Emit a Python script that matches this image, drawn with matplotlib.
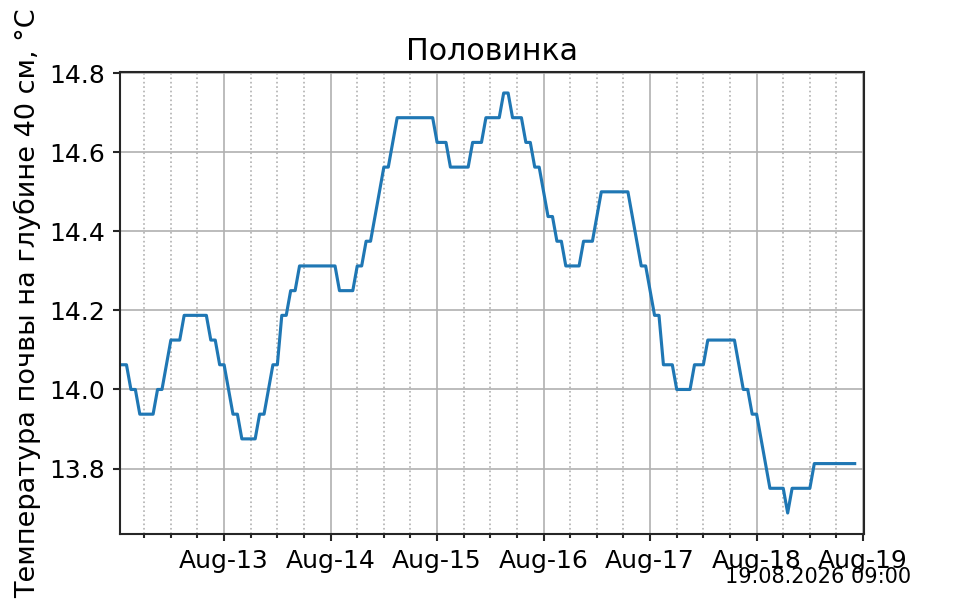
import matplotlib
matplotlib.use("Agg")
import matplotlib.pyplot as plt
import matplotlib.dates as mdates
import numpy as np
import pandas as pd

# Data: hours after 2026-08-12 00:00 and soil temperature, °C
hours = [0.54, 2, 3, 4, 5, 8, 9, 10, 12, 14, 15, 20, 21, 22, 23, 24, 26, 27, 28, 31,
         32, 33, 35, 36, 37, 38, 39, 40, 41, 49, 50, 53, 54, 55, 56, 57, 60, 61, 63, 71,
         72, 74, 75, 79, 80, 82, 83, 86, 87, 88, 89, 91, 92, 93, 94, 95, 97, 98, 99, 100,
         101, 104, 105, 107, 109, 115, 118, 119, 121, 122, 123, 125, 126, 129, 130, 132,
         133, 139, 141, 142, 143, 144, 147, 150, 151, 152, 156, 157, 166.1]
temps = [14.0625, 14.0625, 14.0, 14.0, 13.9375, 13.9375, 14.0, 14.0, 14.125, 14.125,
         14.1875, 14.1875, 14.125, 14.125, 14.0625, 14.0625, 13.9375, 13.9375, 13.875, 13.875,
         13.9375, 13.9375, 14.0625, 14.0625, 14.1875, 14.1875, 14.25, 14.25, 14.3125, 14.3125,
         14.25, 14.25, 14.3125, 14.3125, 14.375, 14.375, 14.5625, 14.5625, 14.6875, 14.6875,
         14.625, 14.625, 14.5625, 14.5625, 14.625, 14.625, 14.6875, 14.6875, 14.75, 14.75,
         14.6875, 14.6875, 14.625, 14.625, 14.5625, 14.5625, 14.4375, 14.4375, 14.375, 14.375,
         14.3125, 14.3125, 14.375, 14.375, 14.5, 14.5, 14.3125, 14.3125, 14.1875, 14.1875,
         14.0625, 14.0625, 14.0, 14.0, 14.0625, 14.0625, 14.125, 14.125, 14.0, 14.0,
         13.9375, 13.9375, 13.75, 13.75, 13.6875, 13.75, 13.75, 13.8125, 13.8125]

start = pd.Timestamp("2026-08-12 00:00")
times = [start + pd.Timedelta(hours=h) for h in hours]
x_end = start + pd.Timedelta(hours=168.2)

title = "Половинка"
ylabel = "Температура почвы на глубине 40 см, °C"
stamp = "19.08.2026 09:00"

plt.rcParams['font.family'] = ['DejaVu Sans']
plt.rcParams['font.size'] = 12

fig = plt.figure(figsize=(6.4, 4), dpi=150)
ax = fig.add_subplot(111)
ax.plot(times, temps, color='#1f77b4', lw=1.5)

ax.set_xlim(times[0], x_end)
ax.xaxis.set_major_locator(mdates.DayLocator())
ax.xaxis.set_major_formatter(mdates.DateFormatter('%b-%d'))
ax.xaxis.set_minor_locator(mdates.HourLocator(byhour=[0, 6, 12, 18]))
ax.yaxis.set_major_locator(matplotlib.ticker.MultipleLocator(0.2))
ax.yaxis.set_major_formatter(matplotlib.ticker.FormatStrFormatter('%.1f'))

ax.grid(True, which='major', color='#b0b0b0', lw=0.8)
ax.grid(True, which='minor', axis='x', color='#b0b0b0', lw=0.8, ls=':')
ax.set_axisbelow(True)

for s in ax.spines.values():
    s.set_color('#262626')
    s.set_linewidth(1.0)
ax.tick_params(which='both', colors='#262626', width=1.0)
ax.tick_params(which='major', length=3.5, labelcolor='black', labelsize=12)
ax.tick_params(which='minor', length=2)

ax.set_title(title, fontsize=14.4)
ax.set_ylabel(ylabel, fontsize=13)
fig.text(0.949, 0.028, stamp, ha='right', va='baseline', fontsize=10)

fig.savefig('out.png', dpi=150)
